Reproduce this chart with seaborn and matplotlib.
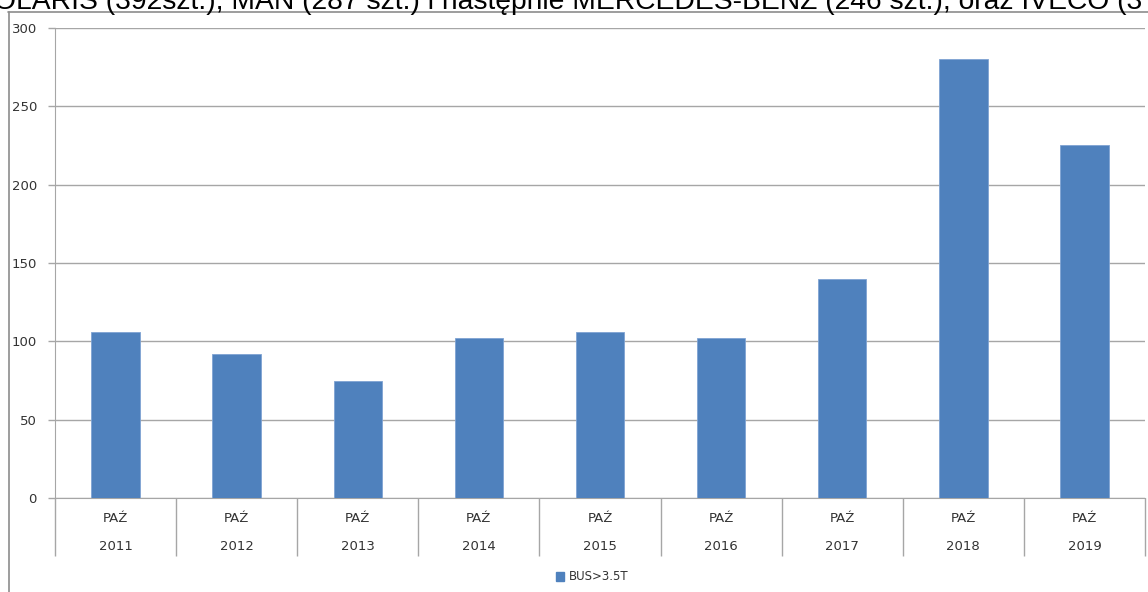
import matplotlib
matplotlib.use("Agg")
import matplotlib.pyplot as plt
import matplotlib.transforms as mtransforms
from matplotlib.lines import Line2D
from matplotlib.patches import Patch
import pandas as pd
import seaborn as sns

# -----------------------------------
# Data
# -----------------------------------
years = ["2011", "2012", "2013", "2014", "2015", "2016", "2017", "2018", "2019"]
months = ["PAŹ"] * len(years)
bus_values = [106, 92, 75, 102, 106, 102, 140, 280, 225]
series_name = "BUS>3.5T"
y_ticks = [0, 50, 100, 150, 200, 250, 300]
title_text = ("OLARIS (392szt.), MAN (287 szt.) i następnie MERCEDES-BENZ "
              "(246 szt.), oraz IVECO (3")

BAR_COLOR = "#4F81BD"
GRID_COLOR = "#A6A6A6"
TEXT_COLOR = "#333333"

df = pd.DataFrame({"year": years, "month": months, "value": bus_values})

sns.set_style("white")
plt.rcParams["font.family"] = ["DejaVu Sans"]

W, H = 1148, 592
fig = plt.figure(figsize=(W / 100, H / 100), dpi=100)
ax = fig.add_axes([55 / W, (H - 498) / H, (1145 - 55) / W, (498 - 28) / H])

sns.barplot(data=df, x="year", y="value", color=BAR_COLOR, width=0.4,
            saturation=1, ax=ax, zorder=3)
for bar in ax.patches:
    bar.set_edgecolor("#7FA3D3")
    bar.set_linewidth(0.6)

ax.set_xlim(-0.5, len(years) - 0.5)
ax.set_ylim(0, 300)
ax.set_yticks(y_ticks)
ax.yaxis.grid(True, color=GRID_COLOR, lw=1)
ax.set_axisbelow(True)
ax.tick_params(axis="y", length=5, width=1, color=GRID_COLOR, pad=8,
               labelsize=9.5, labelcolor=TEXT_COLOR, left=True)
ax.tick_params(axis="x", length=0, labelbottom=False)
ax.set_xlabel("")
ax.set_ylabel("")

for side in ["top", "right"]:
    ax.spines[side].set_visible(False)
ax.spines["bottom"].set_color(GRID_COLOR)
ax.spines["left"].set_color(GRID_COLOR)

# two-level category axis
trans = mtransforms.blended_transform_factory(ax.transData, ax.transAxes)
drop = -(556 - 498) / (498 - 28)
for i, (m, y) in enumerate(zip(months, years)):
    ax.text(i, -(519 - 498) / 470, m, transform=trans, ha="center",
            va="center", fontsize=9.5, color=TEXT_COLOR)
    ax.text(i, -(547 - 498) / 470, y, transform=trans, ha="center",
            va="center", fontsize=9.5, color=TEXT_COLOR)
bounds = [i - 0.5 for i in range(len(years) + 1)]
ax.vlines(bounds, drop, 0, transform=trans, colors=GRID_COLOR, lw=1,
          clip_on=False)

# legend
handle = Patch(facecolor=BAR_COLOR, edgecolor=BAR_COLOR)
fig.legend([handle], [series_name], loc="center",
           bbox_to_anchor=(592 / W, (H - 577) / H), frameon=False,
           fontsize=8.5, handlelength=0.7, handleheight=0.7, handletextpad=0.4,
           labelcolor=TEXT_COLOR)

# outer chart frame and the clipped title line from the surrounding page
fig.add_artist(Line2D([8.5 / W, 8.5 / W], [0, (H - 12) / H],
                      color="#8C8C8C", lw=1.2))
fig.add_artist(Line2D([8 / W, 1], [(H - 12) / H, (H - 12) / H],
                      color="#8C8C8C", lw=1.2))
fig.text(-6 / W, (H - 9) / H, title_text, fontsize=20.3, va="baseline",
         ha="left", color="black", family=["Liberation Sans"])

fig.savefig("out.png", dpi=100)
plt.close(fig)
